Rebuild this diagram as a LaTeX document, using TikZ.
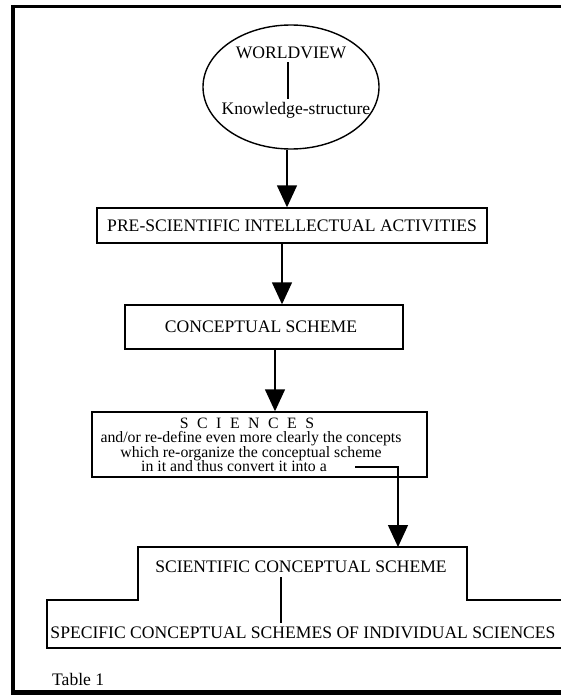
\documentclass[tikz,border=0pt]{standalone}
\usepackage{fontspec}
\setmainfont{Liberation Serif}
\usetikzlibrary{arrows.meta,shapes.geometric}
\begin{document}
\begin{tikzpicture}[x=1pt,y=-1pt,
  every node/.style={font=\fontsize{17.6}{20}\selectfont, inner sep=0pt},
  box/.style={draw, rectangle, line width=1.4pt},
  ln/.style={line width=1.4pt},
  arr/.style={line width=1.4pt, -{Triangle[width=20pt,length=22pt]}},
  small/.style={font=\fontsize{15.8}{14.5}\selectfont, align=center}]
\useasboundingbox (0,0) rectangle (561,695);
\fill[white] (0,0) rectangle (561,695);
% frame
\draw[line width=3pt] (561,6.5) -- (11,6.5);
\draw[line width=4pt] (13,5) -- (13,695);
\draw[line width=5pt] (11,692.5) -- (561,692.5);
% worldview ellipse
\node[draw, ellipse, line width=1.4pt, minimum width=176pt, minimum height=124pt] (wv) at (291,87) {};
\node (wvt) at (291,53) {WORLDVIEW};
\node (ks) at (296,110) {Knowledge-structure};
\draw[ln] ([xshift=-3pt,yshift=-3pt]wvt.south) -- ([xshift=-8pt,yshift=3pt]ks.north);
% boxes
\node[box, minimum width=390pt, minimum height=35pt] (pre) at (292,225.5) {};
\node (pret) at (292,225.5) {PRE-SCIENTIFIC INTELLECTUAL ACTIVITIES};
\node[box, minimum width=278pt, minimum height=44pt] (conc) at (264,327) {};
\node (conct) at (261,327) {CONCEPTUAL SCHEME};
\node[box, minimum width=335pt, minimum height=65pt] (sci) at (259.5,444.5) {};
\node[small] (scit) at (251,445) {{\spaceskip=8.5pt S C I E N C E S}\hspace*{8pt}\\
and/or re-define even more clearly the concepts\\
which re-organize the conceptual scheme\hspace*{12pt}\\
in it and thus convert it into a\hspace*{34pt}};
% arrows
\draw[arr] ([xshift=-4pt]wv.south) -- ([xshift=-5pt]pre.north);
\draw[arr] ([xshift=-10pt]pre.south) -- ([xshift=18pt]conc.north);
\draw[arr] ([xshift=11pt]conc.south) -- ([xshift=15.5pt]sci.north);
% connector from sciences text to step
\coordinate (c1) at (355,467);
\coordinate (c2) at (398,547);
\draw[arr] (c1) -| (c2);
% step shape
\draw[ln] (561,600) -- (467,600) -- (467,547) -- (138,547) -- (138,600) -- (47,600) -- (47,648) -- (561,648);
\node (scs) at (301,567) {SCIENTIFIC CONCEPTUAL SCHEME};
\node (spc) at (303,633) {SPECIFIC CONCEPTUAL SCHEMES OF INDIVIDUAL SCIENCES};
\draw[ln] ([xshift=-20pt,yshift=-4pt]scs.south) -- ([xshift=-22pt,yshift=4pt]spc.north);
\node[anchor=west] (tab) at (52,679) {Table 1};
\end{tikzpicture}
\end{document}
